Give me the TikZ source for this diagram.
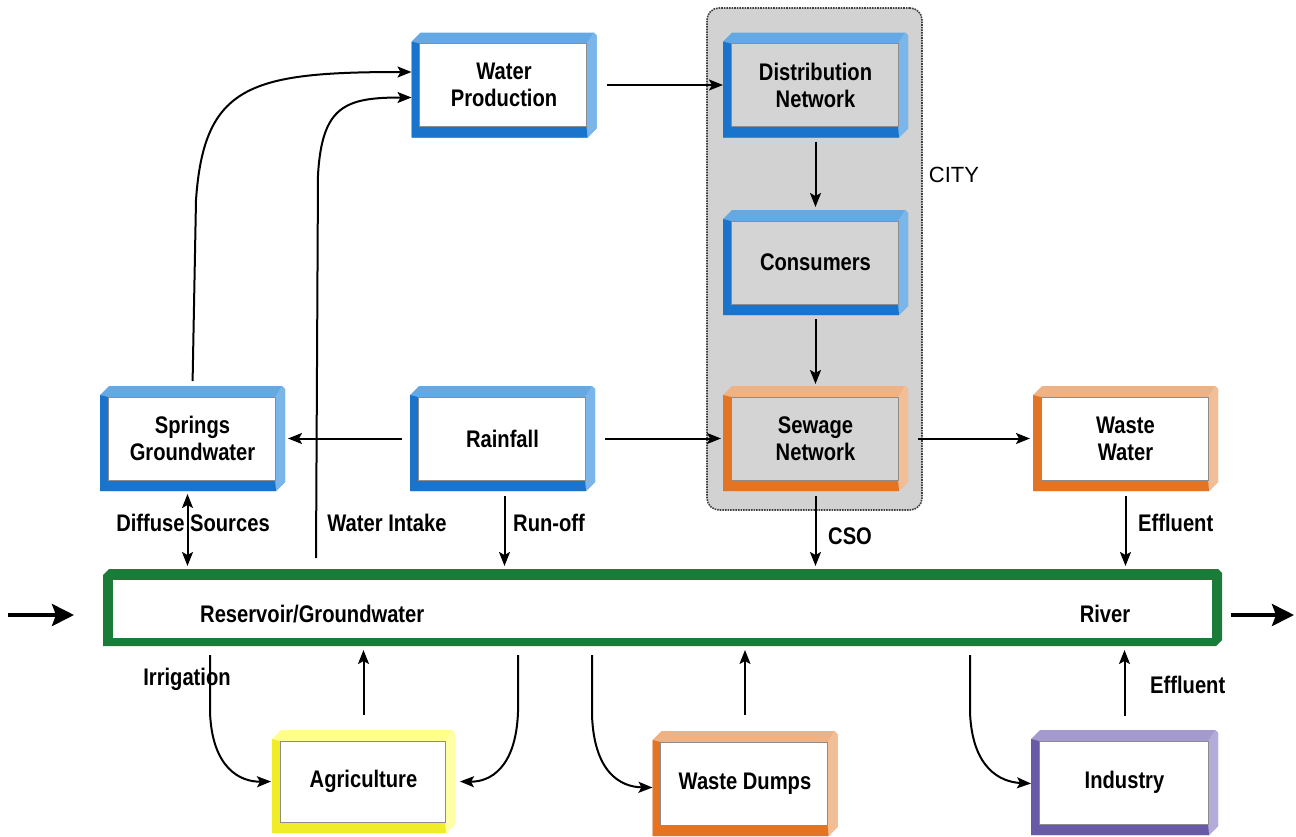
\documentclass[tikz,border=0pt]{standalone}
\usepackage{fontspec}
\setmainfont{Liberation Sans}[FakeStretch=0.84]
\newfontfamily\cityfont{Liberation Sans}
\usetikzlibrary{arrows.meta,calc}
\pgfdeclarelayer{back}
\pgfdeclarelayer{bevel}
\pgfsetlayers{back,bevel,main}

\definecolor{blueL}{RGB}{100,168,228}
\definecolor{blueR}{RGB}{122,182,234}
\definecolor{blueD}{RGB}{26,116,204}
\definecolor{orangeL}{RGB}{238,178,132}
\definecolor{orangeR}{RGB}{242,190,150}
\definecolor{orangeD}{RGB}{226,116,36}
\definecolor{yellowL}{RGB}{255,255,140}
\definecolor{yellowR}{RGB}{255,255,165}
\definecolor{yellowD}{RGB}{240,236,40}
\definecolor{purpleL}{RGB}{164,154,206}
\definecolor{purpleR}{RGB}{180,172,216}
\definecolor{purpleD}{RGB}{104,90,166}
\definecolor{riverG}{RGB}{26,124,56}
\definecolor{cityfill}{RGB}{210,210,210}
\definecolor{innergray}{RGB}{212,212,212}

% bevelled frame drawn behind a named node:
% #1 node, #2 top band, #3 right band, #4 left/bottom band, #5 face
\newcommand\bevelframe[5]{%
  \begin{pgfonlayer}{bevel}
    \fill[#2] let \p1=(#1.north west), \p2=(#1.south east) in
      (\x1+9pt,\y1) -- (\x2-3pt,\y1) -- (\x2,\y1-3pt) -- (\x2,\y2+9pt)
      -- (\x2-9pt,\y2) -- (\x1,\y2) -- (\x1,\y1-9pt) -- cycle;
    \fill[#3] let \p1=(#1.north west), \p2=(#1.south east) in
      (\x2-10pt,\y1-11pt) -- (\x2-3pt,\y1) -- (\x2,\y1-3pt) -- (\x2,\y2+9pt)
      -- (\x2-9pt,\y2) -- (\x2-10pt,\y2+11pt) -- cycle;
    \fill[#4] let \p1=(#1.north west), \p2=(#1.south east) in
      (\x1,\y1-9pt) -- (\x1+8pt,\y1-11pt) -- (\x1+8pt,\y2+11pt)
      -- (\x2-10pt,\y2+11pt) -- (\x2-9pt,\y2) -- (\x1,\y2) -- cycle;
    \path[fill=#5, draw=black!45, line width=0.6pt]
      let \p1=(#1.north west), \p2=(#1.south east) in
      (\x1+8pt,\y1-11pt) rectangle (\x2-10pt,\y2+11pt);
  \end{pgfonlayer}}

\tikzset{
  box/.style={minimum width=185pt, minimum height=105pt, inner sep=0pt,
    outer sep=0pt, align=center, font=\fontsize{24}{27}\selectfont\bfseries},
  lbl/.style={inner sep=0pt, font=\fontsize{24}{27}\selectfont\bfseries},
  arr/.style={line width=2pt, -{Stealth[length=14pt,width=11pt,inset=3pt]}},
  dbl/.style={line width=2pt, {Stealth[length=14pt,width=11pt,inset=3pt]}-{Stealth[length=14pt,width=11pt,inset=3pt]}},
  bigarr/.style={line width=4pt, -{Stealth[length=22pt,width=22pt,inset=4pt]}},
  citybox/.style={draw=black!75, densely dotted, line width=1.6pt,
    rounded corners=12pt, fill=cityfill, minimum width=215pt,
    minimum height=502pt, inner sep=0pt}
}

\begin{document}
\begin{tikzpicture}[x=1pt,y=-1pt]
\useasboundingbox (0,0) rectangle (1296,836);

\begin{pgfonlayer}{back}
  \fill[white] (0,0) rectangle (1296,836);
  \node[citybox] (city) at (814.5,259) {};
\end{pgfonlayer}
\node[font=\cityfont\fontsize{22}{26}\selectfont, inner sep=0pt] (citylbl) at (954,175) {CITY};

% boxes
\node[box] (wp)   at (504,85)    {Water\\Production};
\node[box] (dn)   at (815.5,85)  {Distribution\\Network};
\node[box] (cons) at (815.5,262.5) {Consumers};
\node[box] (sew)  at (815.5,438.5) {Sewage\\Network};
\node[box] (spr)  at (192.5,438.5) {Springs\\Groundwater};
\node[box] (rain) at (502.5,438.5) {Rainfall};
\node[box] (ww)   at (1125.5,438.5) {Waste\\Water};
\node[box, minimum width=183pt, minimum height=103pt] (agri) at (363.5,781.5) {Agriculture};
\node[box] (wd)   at (745,783.5) {Waste Dumps};
\node[box, minimum width=187pt] (ind) at (1124.5,782.5) {Industry};

\bevelframe{wp}{blueL}{blueR}{blueD}{white}
\bevelframe{dn}{blueL}{blueR}{blueD}{innergray}
\bevelframe{cons}{blueL}{blueR}{blueD}{innergray}
\bevelframe{sew}{orangeL}{orangeR}{orangeD}{innergray}
\bevelframe{spr}{blueL}{blueR}{blueD}{white}
\bevelframe{rain}{blueL}{blueR}{blueD}{white}
\bevelframe{ww}{orangeL}{orangeR}{orangeD}{white}
\bevelframe{agri}{yellowL}{yellowR}{yellowD}{white}
\bevelframe{wd}{orangeL}{orangeR}{orangeD}{white}
\bevelframe{ind}{purpleL}{purpleR}{purpleD}{white}

% reservoir / river bar
\node[minimum width=1119pt, minimum height=77pt, inner sep=0pt, outer sep=0pt] (res) at (662.5,607.5) {};
\begin{pgfonlayer}{bevel}
  \fill[riverG] let \p1=(res.north west), \p2=(res.south east) in
    (\x1+6pt,\y1) -- (\x2-4pt,\y1) -- (\x2,\y1-4pt) -- (\x2,\y2+6pt)
    -- (\x2-6pt,\y2) -- (\x1,\y2) -- (\x1,\y1-6pt) -- cycle;
  \fill[white] let \p1=(res.north west), \p2=(res.south east) in
    (\x1+10pt,\y1-11pt) rectangle (\x2-10pt,\y2+8pt);
\end{pgfonlayer}
\node[lbl, anchor=west] (resl) at (200,614) {Reservoir/Groundwater};
\node[lbl] (river) at (1105,614) {River};

% city flows
\draw[arr, shorten <=10pt] (wp.east) -- (dn.west);
\draw[arr, shorten <=4pt, shorten >=3pt] (dn.south) -- (cons.north);
\draw[arr, shorten <=4pt, shorten >=2pt] (cons.south) -- (sew.north);
\draw[arr, shorten <=10pt, shorten >=2pt] (rain.east) -- (sew.west);
\draw[arr, shorten <=8pt, shorten >=3pt] (rain.west) -- (spr.east);
\draw[arr, shorten <=10pt, shorten >=3pt] (sew.east) -- (ww.west);

% supply to water production
\draw[arr, shorten <=5pt] (spr.north) -- (196,200)
  .. controls (204,85) and (250,72) .. ([yshift=13pt]wp.west);
\coordinate (intake) at (316,558);
\draw[arr] (intake) -- (318,175)
  .. controls (322,106) and (345,97.5) .. ([yshift=-12.5pt]wp.west);

% flows into the reservoir
\draw[dbl, shorten <=3pt, shorten >=3pt] ([xshift=-5pt]spr.south) -- ([xshift=-5pt]spr.south |- res.north);
\draw[arr, shorten <=5pt, shorten >=3pt] ([xshift=2pt]rain.south) -- ([xshift=2pt]rain.south |- res.north);
\draw[arr, shorten <=5pt, shorten >=3pt] (sew.south) -- (sew.south |- res.north);
\draw[arr, shorten <=5pt, shorten >=3pt] (ww.south) -- (ww.south |- res.north);

\node[lbl] (diffl) at (193,523) {Diffuse Sources};
\node[lbl] (intl) at (387,523) {Water Intake};
\node[lbl, anchor=west] (runl) at (513,523) {Run-off};
\node[lbl, anchor=west] (csol) at (828,536) {CSO};
\node[lbl, anchor=west] (eff1) at (1138,523) {Effluent};

% river in and out
\coordinate (inA) at (8,615);
\coordinate (inB) at (74,615);
\coordinate (outA) at (1231,615);
\coordinate (outB) at (1294,615);
\draw[bigarr] (inA) -- (inB);
\draw[bigarr] (outA) -- (outB);

% lower users
\coordinate (irrS) at (210,655);
\coordinate (agS) at (518,655);
\coordinate (wdS) at (592,655);
\coordinate (inS) at (970,655);
\draw[arr] (irrS) -- (210,712) .. controls (212,768) and (240,782) .. ([xshift=-1pt]agri.west);
\draw[arr] (agS) -- (518,712) .. controls (516,768) and (490,782) .. ([xshift=5pt]agri.east);
\draw[arr] (wdS) -- (592,715) .. controls (594,772) and (620,787) .. ([yshift=-4pt]wd.west);
\draw[arr] (inS) -- (970,712) .. controls (972,768) and (1000,782) .. ([yshift=-1pt]ind.west);
\draw[arr, shorten <=15pt, shorten >=4pt] (agri.north) -- (agri.north |- res.south);
\draw[arr, shorten <=16pt, shorten >=4pt] (wd.north) -- (wd.north |- res.south);
\draw[arr, shorten <=14pt, shorten >=4pt] (ind.north) -- (ind.north |- res.south);

\node[lbl] (irrl) at (187,679) {Irrigation};
\node[lbl, anchor=west] (eff2) at (1150,685) {Effluent};
\end{tikzpicture}
\end{document}
